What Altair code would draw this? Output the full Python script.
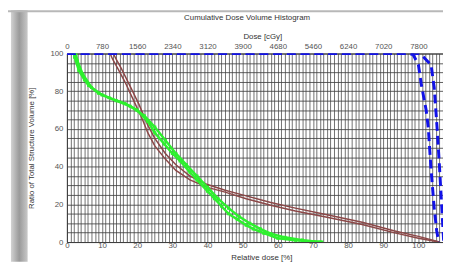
import altair as alt
import pandas as pd

# Relative dose [%] (x) and ratio of total structure volume [%] (y)
blue_a_x = [0, 97, 98.5, 100, 100.8, 102.2, 102.8, 103.6, 104.5, 105.2, 105.8]
blue_a_y = [100, 100, 99.5, 94, 84, 70, 61, 38.5, 18, 6, 0]
blue_b_x = [0, 100, 101, 103.6, 104.5, 105.3, 106, 106.6, 107.2]
blue_b_y = [100, 100, 99, 94, 82, 61, 40, 20, 0]

brown_a_x = [12.3, 13, 14.5, 16.5, 19, 21.5, 23, 25, 28, 31, 35, 40, 45, 51, 58, 65, 74, 84, 93, 100, 105]
brown_a_y = [100, 97, 92, 85, 75, 65, 58, 51, 44, 38, 33, 29, 26.5, 23, 19.5, 16.5, 13.2, 9.3, 5, 2, 0.3]
brown_b_x = [13.2, 14, 15.5, 17.9, 20.5, 23, 25, 28, 31, 35, 40, 45, 51, 58, 65, 74, 84, 93, 100, 106]
brown_b_y = [100, 97, 92, 83, 73, 62, 55, 47, 41, 35, 30.5, 27.5, 24.5, 21, 18, 14.5, 10.5, 6, 3, 0]

green_a_x = [2, 2.2, 3.4, 5, 6.2, 9, 12, 16.5, 20, 23, 25, 27.7, 30, 32.2, 35, 37, 40, 42, 44, 46, 48.5, 51, 53, 56, 60, 65, 70, 72.5]
green_a_y = [100, 98, 91, 86, 83, 79, 76.5, 73.5, 70, 64, 58, 52, 47, 43, 37, 33, 27, 23, 19, 15, 12, 9, 7, 4.7, 2, 1, 0.3, 0]
green_b_x = [2.5, 3, 4.5, 7, 10, 14, 18, 22, 25, 28, 31, 34, 37, 40, 43, 46, 49, 52, 55, 58, 62, 67, 72]
green_b_y = [100, 96, 89, 82, 78, 75, 72, 67, 61, 54, 47, 41, 35, 29, 23, 18, 13.5, 10, 7, 4.5, 2.5, 1, 0]

top_ticks = list(range(0, 101, 10))   # relative dose positions of cGy labels (x78)
x_grid = list(range(0, 108))
y_grid = list(range(0, 101, 5))


def frame(xs, ys, name):
    return pd.DataFrame({"x": xs, "y": ys, "curve": name, "o": range(len(xs))})


blue = pd.concat([frame(blue_a_x, blue_a_y, "ba"), frame(blue_b_x, blue_b_y, "bb")])
brown = pd.concat([frame(brown_a_x, brown_a_y, "ra"), frame(brown_b_x, brown_b_y, "rb")])
green = pd.concat([frame(green_a_x, green_a_y, "ga"), frame(green_b_x, green_b_y, "gb")])

FONT = "Liberation Sans"
GRID = "#404040"
xscale = alt.Scale(domain=[0, 107], nice=False, zero=False)
yscale = alt.Scale(domain=[0, 100], nice=False)

x_bottom = alt.X(
    "x:Q", scale=xscale,
    axis=alt.Axis(
        orient="bottom", values=x_grid,
        labelExpr="datum.value % 10 == 0 ? datum.label : ''",
        grid=True, gridColor=GRID, gridWidth=1, gridOpacity=0.75,
        ticks=False, tickSize=0, domain=False, labelOverlap=False, labelFlush=False,
        labelBaseline="middle", labelPadding=4,
        title="Relative dose [%]", titleX=198, titleY=16, titleBaseline="middle",
    ),
)
x_top = alt.X(
    "x:Q", scale=xscale,
    axis=alt.Axis(
        orient="top", values=top_ticks,
        labelExpr="format(datum.value * 78, 'd')",
        grid=False, ticks=False, tickSize=0, domain=False, labelOverlap=False, labelFlush=False,
        labelBaseline="middle", labelPadding=7,
        title="Dose [cGy]", titleX=199, titleY=-17, titleBaseline="middle",
    ),
)
y_enc = alt.Y(
    "y:Q", scale=yscale,
    axis=alt.Axis(
        values=y_grid,
        labelExpr="datum.value % 20 == 0 ? datum.label : ''",
        grid=True, gridColor=GRID, gridWidth=1, gridOpacity=0.85,
        ticks=False, tickSize=0, domain=False, labelOverlap=False, labelFlush=False,
        labelPadding=4,
        title="Ratio of Total Structure Volume [%]", titleX=-36, titleBaseline="middle",
    ),
)

deco = alt.Data(values=[{"k": 1}])
gray_bar = alt.Chart(deco).mark_rect(
    color=alt.LinearGradient(
        gradient="linear", x1=0, x2=1, y1=0, y2=0,
        stops=[alt.GradientStop(color="#d2d2d2", offset=0),
               alt.GradientStop(color="#9a9a9a", offset=0.5),
               alt.GradientStop(color="#c8c8c8", offset=1)],
    )
).encode(x=alt.value(-57), x2=alt.value(-40), y=alt.value(-44), y2=alt.value(212))
top_band = alt.Chart(deco).mark_rect(color="#b8b8b8").encode(
    x=alt.value(-60), x2=alt.value(383), y=alt.value(-44), y2=alt.value(-42))

brown_l = alt.Chart(brown).mark_line(clip=True, strokeWidth=1.5, color="#8b4747").encode(
    x=x_bottom, y=y_enc, detail="curve:N", order="o:Q")
green_l = alt.Chart(green).mark_line(
    clip=True, strokeWidth=2.5, color="#2ef02e",
    point=alt.OverlayMarkDef(shape="square", size=10, filled=True, color="#2ef02e"),
).encode(x=x_bottom, y=y_enc, detail="curve:N", order="o:Q")
blue_l = alt.Chart(blue).mark_line(
    clip=True, strokeWidth=3, color="#1212e8", strokeDash=[9, 5]
).encode(x=x_top, y=y_enc, detail="curve:N", order="o:Q")

lower = alt.layer(gray_bar, top_band, brown_l, green_l)

chart = alt.layer(lower, blue_l).resolve_axis(
    x="independent"
).properties(
    width=383, height=192,
    autosize=alt.AutoSizeParams(type="none"),
    padding={"left": 60, "top": 44, "right": 0, "bottom": 20},
    title=alt.TitleParams("Cumulative Dose Volume Histogram", font=FONT, fontSize=8,
                          fontWeight="normal", color="#333333", anchor="middle",
                          dx=-8, offset=-12),
).configure_axis(
    labelFont=FONT, labelFontSize=8, labelColor="#555555",
    titleFont=FONT, titleFontSize=8, titleFontWeight="normal", titleColor="#333333",
).configure_view(stroke="#333333", strokeWidth=1)

chart.save("out.html", embed_options={"renderer": "svg", "actions": False})
